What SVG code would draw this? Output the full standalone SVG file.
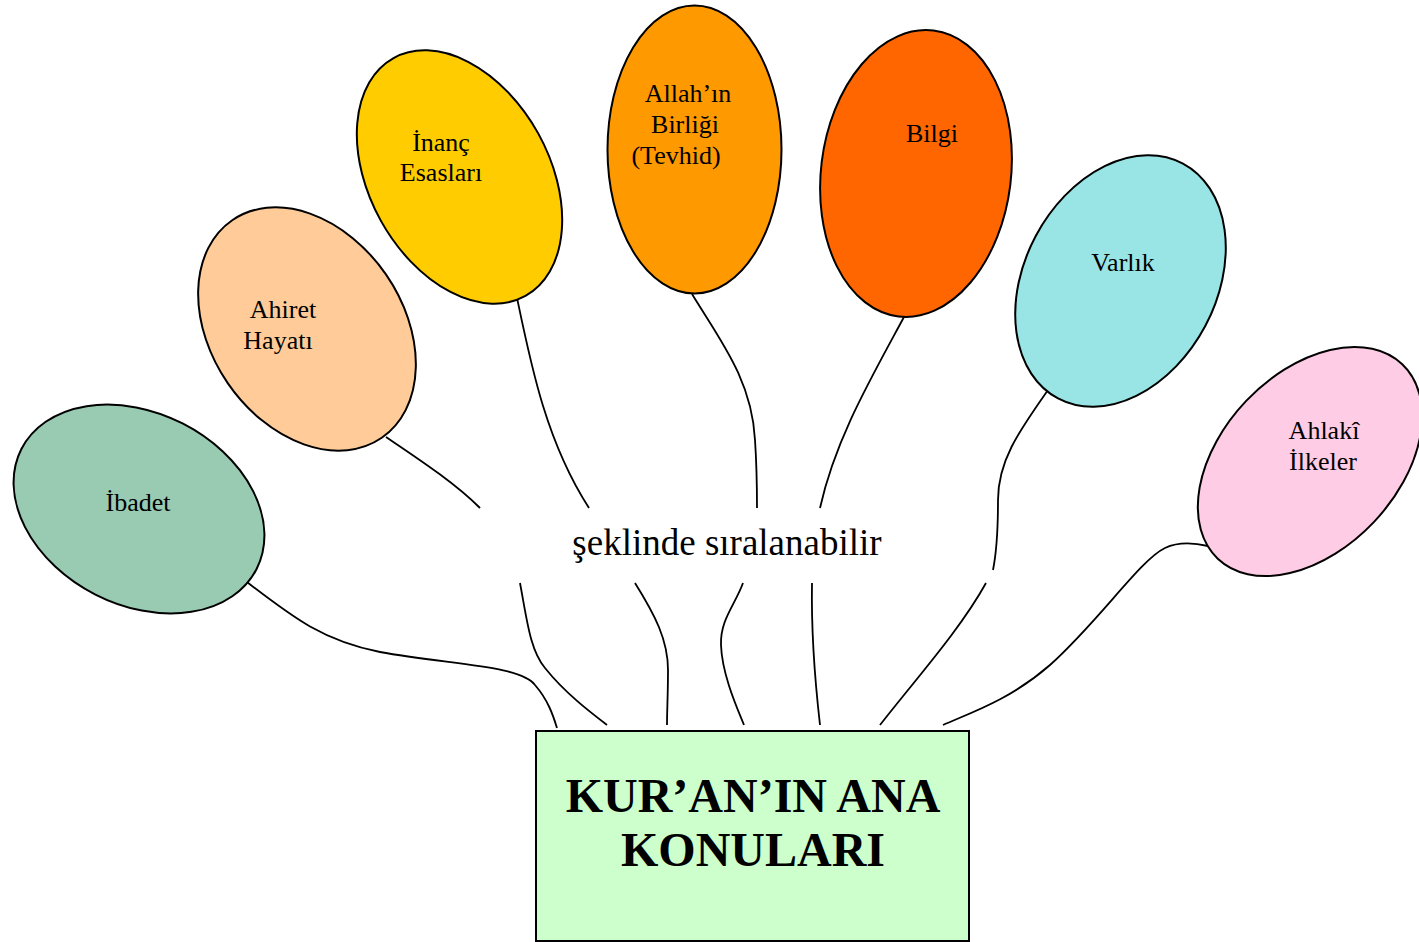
<svg xmlns="http://www.w3.org/2000/svg" width="1419" height="942" viewBox="0 0 1419 942">
<style>
.n{stroke:#000;stroke-width:2}
.t{font-family:"Liberation Serif","Times New Roman",serif;font-size:26px;fill:#000;text-anchor:middle}
.c{fill:none;stroke:#000;stroke-width:1.8}
.mid{font-family:"Liberation Serif","Times New Roman",serif;font-size:37px;fill:#000;text-anchor:middle}
.title{font-family:"Liberation Serif","Times New Roman",serif;font-size:48px;font-weight:bold;fill:#000;text-anchor:middle}
</style>
<rect width="1419" height="942" fill="#fff"/>
<g id="connectors">
<path class="c" d="M243,579 C290,615 320,640 380,652 C450,665 520,665 535,685 C548,700 553,715 557,728"/>
<path class="c" d="M386,437 C420,460 455,483 480,508"/>
<path class="c" d="M520,583 C527,620 530,650 545,668 C565,693 590,712 607,725"/>
<path class="c" d="M516,293 C530,360 545,440 589,508"/>
<path class="c" d="M635,583 C655,615 668,640 668,670 C668,695 667,710 667,725"/>
<path class="c" d="M692,294 C720,340 752,380 755,440 C757,470 757,490 757,508"/>
<path class="c" d="M743,583 C735,605 720,620 721,645 C722,675 738,710 744,725"/>
<path class="c" d="M904,317 C870,380 835,440 820,508"/>
<path class="c" d="M812,583 C811,640 816,690 820,725"/>
<path class="c" d="M1048,390 C1020,430 998,460 998,500 C998,530 997,550 993,570"/>
<path class="c" d="M986,583 C960,630 915,680 880,725"/>
<path class="c" d="M1208,546 C1195,543 1180,541 1165,548 C1140,560 1100,620 1050,665 C1010,700 970,713 943,725"/>
</g>
<g id="ibadet">
<ellipse class="n" cx="139" cy="509" rx="132" ry="96" transform="rotate(27 139 509)" fill="#99CBB3"/>
<text class="t" x="138" y="511">İbadet</text>
</g>
<g id="ahiret">
<ellipse class="n" cx="307" cy="329" rx="132" ry="96" transform="rotate(55.5 307 329)" fill="#FFCC99"/>
<text class="t" x="283" y="318">Ahiret</text>
<text class="t" x="278" y="349">Hayatı</text>
</g>
<g id="inanc">
<ellipse class="n" cx="459.5" cy="177" rx="136" ry="90" transform="rotate(61 459.5 177)" fill="#FFCC00"/>
<text class="t" x="441" y="151">İnanç</text>
<text class="t" x="441" y="181">Esasları</text>
</g>
<g id="allah">
<ellipse class="n" cx="694.5" cy="149.5" rx="87" ry="144" fill="#FF9900"/>
<text class="t" x="688" y="102">Allah’ın</text>
<text class="t" x="685" y="133">Birliği</text>
<text class="t" x="676" y="164">(Tevhid)</text>
</g>
<g id="bilgi">
<ellipse class="n" cx="916" cy="173.5" rx="144" ry="95" transform="rotate(-83 916 173.5)" fill="#FF6600"/>
<text class="t" x="932" y="142">Bilgi</text>
</g>
<g id="varlik">
<ellipse class="n" cx="1120.5" cy="281" rx="133" ry="96" transform="rotate(-62 1120.5 281)" fill="#99E5E5"/>
<text class="t" x="1123" y="271">Varlık</text>
</g>
<g id="ahlaki">
<ellipse class="n" cx="1310" cy="461.5" rx="134" ry="88" transform="rotate(-46.5 1310 461.5)" fill="#FFCCE5"/>
<text class="t" x="1324" y="439">Ahlakî</text>
<text class="t" x="1323" y="470">İlkeler</text>
</g>
<g id="label">
<text class="mid" x="727" y="555">şeklinde sıralanabilir</text>
</g>
<g id="box">
<rect x="536" y="731" width="433" height="210" fill="#CCFFCC" stroke="#000" stroke-width="2"/>
<text class="title" x="753" y="812">KUR’AN’IN ANA</text>
<text class="title" x="753" y="866">KONULARI</text>
</g>
</svg>
